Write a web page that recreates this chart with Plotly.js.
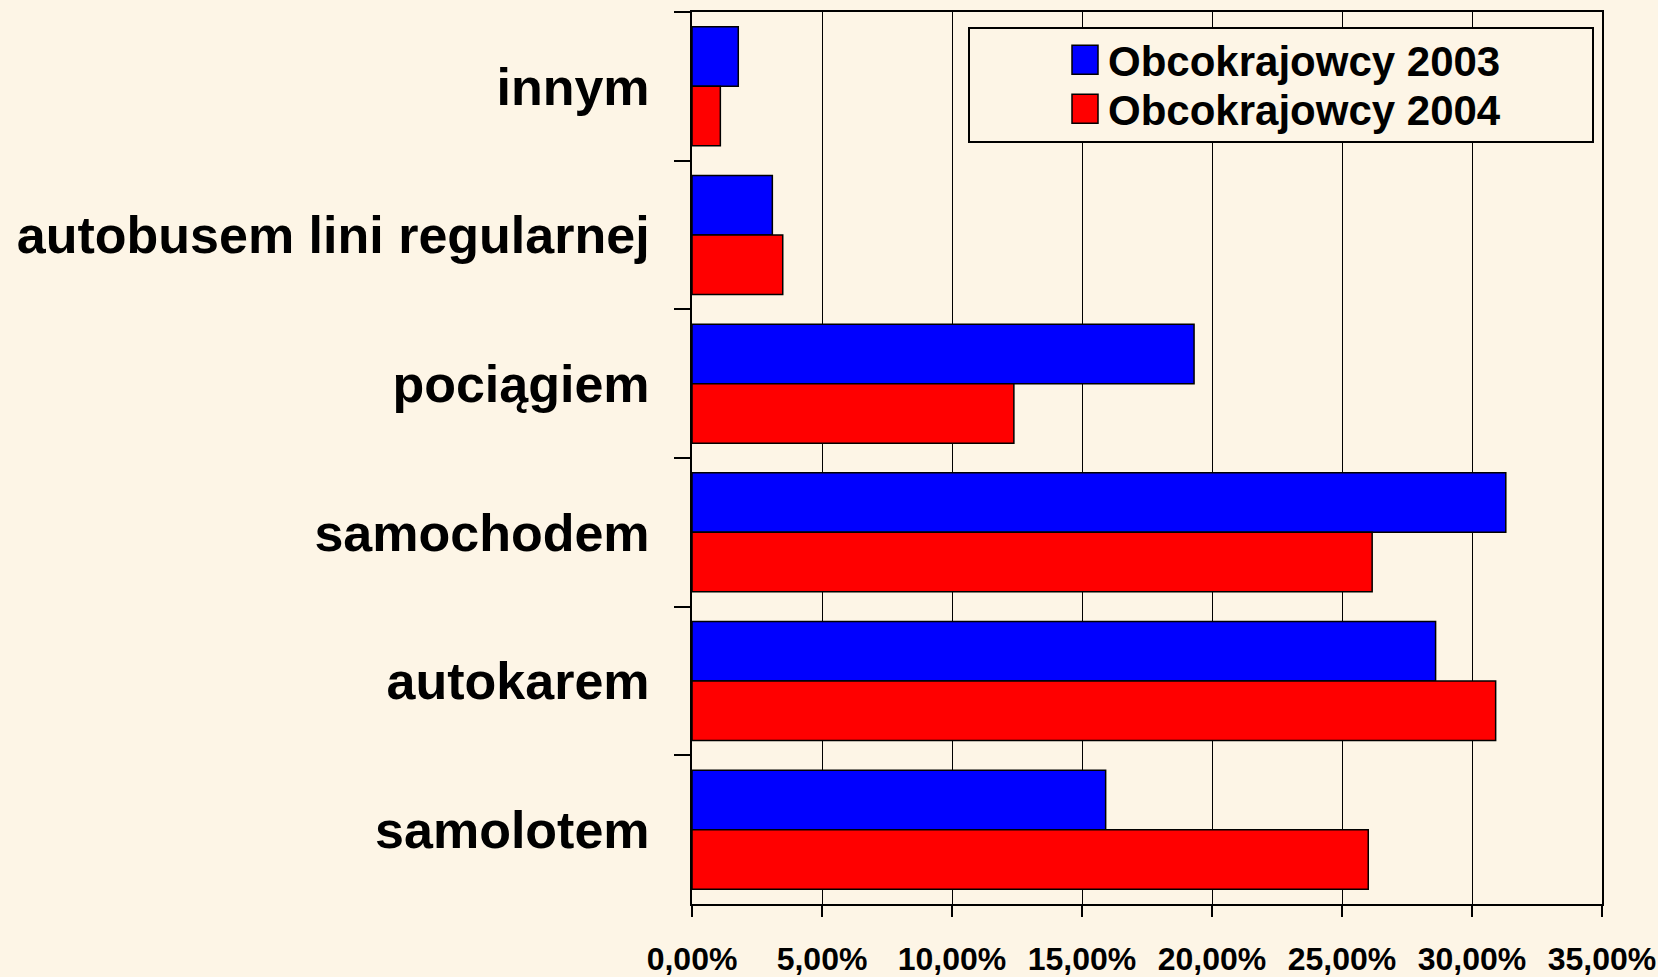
<!DOCTYPE html>
<html>
<head>
<meta charset="utf-8">
<script src="https://cdn.plot.ly/plotly-3.0.1.min.js"></script>
<style>
  html, body { margin: 0; padding: 0; background: #FDF5E6; }
  #chart { width: 1658px; height: 977px; }
</style>
</head>
<body>
<div id="chart"></div>
<script>
// Data
const categories = ["innym", "autobusem lini regularnej", "pociągiem", "samochodem", "autokarem", "samolotem"];
const series2003Name = "Obcokrajowcy 2003";
const series2004Name = "Obcokrajowcy 2004";
const values2003 = [1.78, 3.09, 19.31, 31.30, 28.60, 15.91];
const values2004 = [1.09, 3.49, 12.38, 26.16, 30.91, 26.01];
const xTickValues = [0, 5, 10, 15, 20, 25, 30, 35];
const xTickLabels = ["0,00%", "5,00%", "10,00%", "15,00%", "20,00%", "25,00%", "30,00%", "35,00%"];

const BG = "#FDF5E6";
const FONT = "Liberation Sans, Arial, Helvetica, sans-serif";

const traces = [
  {
    type: "bar", orientation: "h", name: series2003Name,
    y: categories, x: values2003,
    marker: { color: "#0000FF", line: { color: "#000000", width: 1.5 } },
    hoverinfo: "x+y"
  },
  {
    type: "bar", orientation: "h", name: series2004Name,
    y: categories, x: values2004,
    marker: { color: "#FF0000", line: { color: "#000000", width: 1.5 } },
    hoverinfo: "x+y"
  }
];

const ml = 692, mr = 56, mt = 12, mb = 73;
const W = 1658, H = 977;
const pw = W - ml - mr, ph = H - mt - mb;
function px2paperX(px) { return (px - ml) / pw; }
function px2paperY(py) { return 1 - (py - mt) / ph; }

const layout = {
  width: W, height: H,
  margin: { l: ml, r: mr, t: mt, b: mb, pad: 0, autoexpand: false },
  paper_bgcolor: BG,
  plot_bgcolor: BG,
  barmode: "group",
  bargap: 0.2,
  bargroupgap: 0,
  font: { family: FONT, color: "#000000", weight: 700 },
  xaxis: {
    range: [0, 35],
    automargin: false,
    tickmode: "array",
    tickvals: xTickValues,
    ticktext: xTickLabels,
    tickangle: 0,
    showgrid: true, gridcolor: "#000000", gridwidth: 1,
    zeroline: false,
    showline: true, linecolor: "#000000", linewidth: 2, mirror: true,
    ticks: "outside", ticklen: 11, tickwidth: 1.5, tickcolor: "#000000",
    ticklabelstandoff: 15,
    tickfont: { family: FONT, size: 32, color: "#000000", weight: 700 },
    fixedrange: true
  },
  yaxis: {
    type: "category",
    automargin: false,
    categoryorder: "array",
    categoryarray: categories,
    autorange: "reversed",
    tickson: "boundaries",
    showgrid: false,
    zeroline: false,
    showline: true, linecolor: "#000000", linewidth: 2, mirror: true,
    ticks: "outside", ticklen: 16, tickwidth: 2, tickcolor: "#000000",
    ticklabelstandoff: 30,
    tickfont: { family: FONT, size: 52, color: "#000000", weight: 700 },
    fixedrange: true
  },
  showlegend: true,
  legend: {
    xref: "container", yref: "container",
    x: 1068 / W, y: 1 - 26 / H,
    xanchor: "left", yanchor: "top",
    bgcolor: "rgba(0,0,0,0)",
    borderwidth: 0,
    font: { family: FONT, size: 42, color: "#000000", weight: 700 },
    traceorder: "normal",
    itemclick: false, itemdoubleclick: false
  },
  shapes: [
    {
      type: "rect", xref: "paper", yref: "paper", layer: "above",
      x0: px2paperX(969), x1: px2paperX(1593),
      y0: px2paperY(142), y1: px2paperY(28),
      line: { color: "#000000", width: 2 },
      fillcolor: BG
    }
  ]
};

const ROW_STEP = 49;
function tweakLegend() {
  document.querySelectorAll("#chart g.legendpoints path").forEach(p => {
    p.setAttribute("d", "M10,14.5H-16V-14.5H10Z");
  });
  const items = document.querySelectorAll("#chart .legend g.traces");
  let baseY = null;
  items.forEach((g, i) => {
    if (!g.dataset.origTransform) g.dataset.origTransform = g.getAttribute("transform") || "";
    const m = /translate\(\s*([-\d.e]+)[ ,]+([-\d.e]+)\s*\)/.exec(g.dataset.origTransform);
    if (!m) return;
    const tx = parseFloat(m[1]), ty = parseFloat(m[2]);
    if (baseY === null) baseY = ty;
    g.setAttribute("transform", "translate(" + tx + "," + (baseY + i * ROW_STEP) + ")");
  });
}

const gd = document.getElementById("chart");
Plotly.newPlot(gd, traces, layout, { displayModeBar: false, staticPlot: true }).then(() => {
  tweakLegend();
  setTimeout(tweakLegend, 50);
  setTimeout(tweakLegend, 300);
});
</script>
</body>
</html>
